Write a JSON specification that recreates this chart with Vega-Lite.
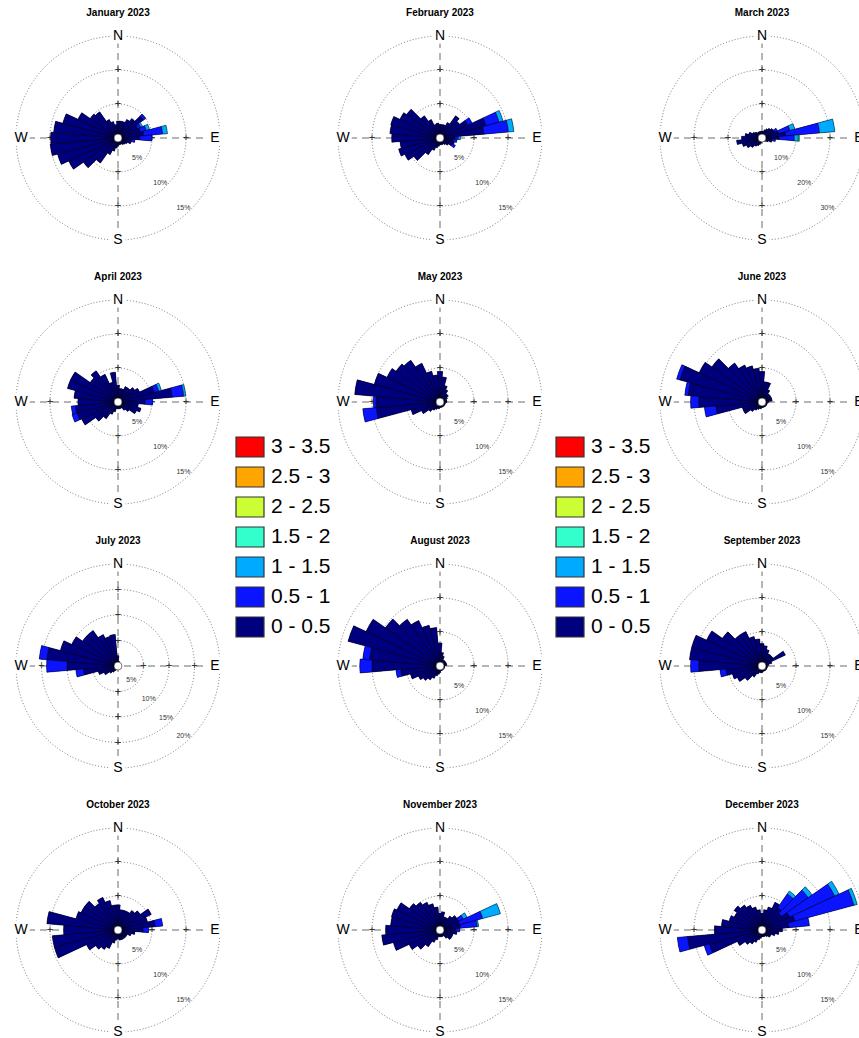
{
"$schema": "https://vega.github.io/schema/vega-lite/v6.json",
"padding": {"left": 14, "top": 8, "right": 0, "bottom": 0},
"bounds": "flush",
"config": {"font": "Liberation Sans", "view": {"stroke": null}},
"data": {"values": [
{"t":"w","m":1,"d":0,"b":0,"v":2.5},{"t":"w","m":1,"d":10,"b":0,"v":2.5},{"t":"w","m":1,"d":20,"b":0,"v":2.5},{"t":"w","m":1,"d":30,"b":0,"v":3},{"t":"w","m":1,"d":40,"b":0,"v":3.5},{"t":"w","m":1,"d":50,"b":0,"v":4.6},{"t":"w","m":1,"d":60,"b":0,"v":3.2},{"t":"w","m":1,"d":70,"b":0,"v":3.4},{"t":"w","m":1,"d":80,"b":0,"v":3.8},{"t":"w","m":1,"d":90,"b":0,"v":3.2},{"t":"w","m":1,"d":100,"b":0,"v":2},{"t":"w","m":1,"d":110,"b":0,"v":2},{"t":"w","m":1,"d":120,"b":0,"v":1.5},{"t":"w","m":1,"d":130,"b":0,"v":1.3},{"t":"w","m":1,"d":140,"b":0,"v":1.2},{"t":"w","m":1,"d":150,"b":0,"v":1},{"t":"w","m":1,"d":160,"b":0,"v":1},{"t":"w","m":1,"d":170,"b":0,"v":1},{"t":"w","m":1,"d":180,"b":0,"v":1.2},{"t":"w","m":1,"d":190,"b":0,"v":1.5},{"t":"w","m":1,"d":200,"b":0,"v":2},{"t":"w","m":1,"d":210,"b":0,"v":2.7},{"t":"w","m":1,"d":220,"b":0,"v":4.5},{"t":"w","m":1,"d":230,"b":0,"v":6.2},{"t":"w","m":1,"d":240,"b":0,"v":8},{"t":"w","m":1,"d":250,"b":0,"v":9.2},{"t":"w","m":1,"d":260,"b":0,"v":10},{"t":"w","m":1,"d":270,"b":0,"v":9.9},{"t":"w","m":1,"d":280,"b":0,"v":9.5},{"t":"w","m":1,"d":290,"b":0,"v":8.4},{"t":"w","m":1,"d":300,"b":0,"v":6.5},{"t":"w","m":1,"d":310,"b":0,"v":5},{"t":"w","m":1,"d":320,"b":0,"v":4.7},{"t":"w","m":1,"d":330,"b":0,"v":3},{"t":"w","m":1,"d":340,"b":0,"v":2.5},{"t":"w","m":1,"d":350,"b":0,"v":2},
{"t":"w","m":1,"d":50,"b":1,"v":0.4},{"t":"w","m":1,"d":60,"b":1,"v":0.5},{"t":"w","m":1,"d":60,"b":2,"v":0.3},{"t":"w","m":1,"d":70,"b":1,"v":0.9},{"t":"w","m":1,"d":70,"b":2,"v":0.5},{"t":"w","m":1,"d":80,"b":1,"v":2.8},{"t":"w","m":1,"d":80,"b":2,"v":0.7},{"t":"w","m":1,"d":90,"b":1,"v":1.8},{"t":"w","m":1,"d":100,"b":1,"v":0.5},
{"t":"w","m":2,"d":0,"b":0,"v":2},{"t":"w","m":2,"d":10,"b":0,"v":2},{"t":"w","m":2,"d":20,"b":0,"v":2},{"t":"w","m":2,"d":30,"b":0,"v":2.5},{"t":"w","m":2,"d":40,"b":0,"v":4},{"t":"w","m":2,"d":50,"b":0,"v":3.5},{"t":"w","m":2,"d":60,"b":0,"v":4.5},{"t":"w","m":2,"d":70,"b":0,"v":7},{"t":"w","m":2,"d":80,"b":0,"v":6.5},{"t":"w","m":2,"d":90,"b":0,"v":2.2},{"t":"w","m":2,"d":100,"b":0,"v":2},{"t":"w","m":2,"d":110,"b":0,"v":2.2},{"t":"w","m":2,"d":120,"b":0,"v":2},{"t":"w","m":2,"d":130,"b":0,"v":1.5},{"t":"w","m":2,"d":140,"b":0,"v":1.2},{"t":"w","m":2,"d":150,"b":0,"v":1},{"t":"w","m":2,"d":160,"b":0,"v":1},{"t":"w","m":2,"d":170,"b":0,"v":1},{"t":"w","m":2,"d":180,"b":0,"v":1},{"t":"w","m":2,"d":190,"b":0,"v":1.2},{"t":"w","m":2,"d":200,"b":0,"v":1.5},{"t":"w","m":2,"d":210,"b":0,"v":2},{"t":"w","m":2,"d":220,"b":0,"v":3},{"t":"w","m":2,"d":230,"b":0,"v":4.7},{"t":"w","m":2,"d":240,"b":0,"v":5.7},{"t":"w","m":2,"d":250,"b":0,"v":6.3},{"t":"w","m":2,"d":260,"b":0,"v":5.9},{"t":"w","m":2,"d":270,"b":0,"v":7.1},{"t":"w","m":2,"d":280,"b":0,"v":7.4},{"t":"w","m":2,"d":290,"b":0,"v":7.5},{"t":"w","m":2,"d":300,"b":0,"v":6.5},{"t":"w","m":2,"d":310,"b":0,"v":6},{"t":"w","m":2,"d":320,"b":0,"v":4},{"t":"w","m":2,"d":330,"b":0,"v":3},{"t":"w","m":2,"d":340,"b":0,"v":2.1},{"t":"w","m":2,"d":350,"b":0,"v":2.2},
{"t":"w","m":2,"d":60,"b":1,"v":0.7},{"t":"w","m":2,"d":70,"b":1,"v":2},{"t":"w","m":2,"d":70,"b":2,"v":0.6},{"t":"w","m":2,"d":80,"b":1,"v":3.6},{"t":"w","m":2,"d":80,"b":2,"v":0.8},{"t":"w","m":2,"d":90,"b":1,"v":0.5},{"t":"w","m":2,"d":90,"b":2,"v":0.3},{"t":"w","m":2,"d":100,"b":1,"v":0.5},{"t":"w","m":2,"d":120,"b":1,"v":0.5},
{"t":"w","m":3,"d":0,"b":0,"v":2},{"t":"w","m":3,"d":10,"b":0,"v":2},{"t":"w","m":3,"d":20,"b":0,"v":2.5},{"t":"w","m":3,"d":30,"b":0,"v":3},{"t":"w","m":3,"d":40,"b":0,"v":3.5},{"t":"w","m":3,"d":50,"b":0,"v":4},{"t":"w","m":3,"d":60,"b":0,"v":4},{"t":"w","m":3,"d":70,"b":0,"v":5},{"t":"w","m":3,"d":80,"b":0,"v":7},{"t":"w","m":3,"d":90,"b":0,"v":5},{"t":"w","m":3,"d":100,"b":0,"v":3},{"t":"w","m":3,"d":110,"b":0,"v":3},{"t":"w","m":3,"d":120,"b":0,"v":2},{"t":"w","m":3,"d":130,"b":0,"v":1.5},{"t":"w","m":3,"d":140,"b":0,"v":1.2},{"t":"w","m":3,"d":150,"b":0,"v":1},{"t":"w","m":3,"d":160,"b":0,"v":1},{"t":"w","m":3,"d":170,"b":0,"v":1},{"t":"w","m":3,"d":180,"b":0,"v":1},{"t":"w","m":3,"d":190,"b":0,"v":1.5},{"t":"w","m":3,"d":200,"b":0,"v":2},{"t":"w","m":3,"d":210,"b":0,"v":2.5},{"t":"w","m":3,"d":220,"b":0,"v":3},{"t":"w","m":3,"d":230,"b":0,"v":4},{"t":"w","m":3,"d":240,"b":0,"v":5},{"t":"w","m":3,"d":250,"b":0,"v":6},{"t":"w","m":3,"d":260,"b":0,"v":7.5},{"t":"w","m":3,"d":270,"b":0,"v":6},{"t":"w","m":3,"d":280,"b":0,"v":5},{"t":"w","m":3,"d":290,"b":0,"v":4},{"t":"w","m":3,"d":300,"b":0,"v":3},{"t":"w","m":3,"d":310,"b":0,"v":2.5},{"t":"w","m":3,"d":320,"b":0,"v":2},{"t":"w","m":3,"d":330,"b":0,"v":2},{"t":"w","m":3,"d":340,"b":0,"v":2},{"t":"w","m":3,"d":350,"b":0,"v":2},
{"t":"w","m":3,"d":60,"b":1,"v":1},{"t":"w","m":3,"d":70,"b":1,"v":3.5},{"t":"w","m":3,"d":70,"b":2,"v":1.5},{"t":"w","m":3,"d":80,"b":1,"v":10},{"t":"w","m":3,"d":80,"b":2,"v":4.5},{"t":"w","m":3,"d":90,"b":1,"v":4.5},{"t":"w","m":3,"d":90,"b":2,"v":1.2},{"t":"w","m":3,"d":90,"b":3,"v":0.3},{"t":"w","m":3,"d":100,"b":1,"v":1},
{"t":"w","m":4,"d":0,"b":0,"v":2.5},{"t":"w","m":4,"d":10,"b":0,"v":2},{"t":"w","m":4,"d":20,"b":0,"v":2},{"t":"w","m":4,"d":30,"b":0,"v":2.5},{"t":"w","m":4,"d":40,"b":0,"v":2.5},{"t":"w","m":4,"d":50,"b":0,"v":3},{"t":"w","m":4,"d":60,"b":0,"v":3.5},{"t":"w","m":4,"d":70,"b":0,"v":5.5},{"t":"w","m":4,"d":80,"b":0,"v":8},{"t":"w","m":4,"d":90,"b":0,"v":4},{"t":"w","m":4,"d":100,"b":0,"v":3},{"t":"w","m":4,"d":110,"b":0,"v":3.5},{"t":"w","m":4,"d":120,"b":0,"v":3},{"t":"w","m":4,"d":130,"b":0,"v":2},{"t":"w","m":4,"d":140,"b":0,"v":1.5},{"t":"w","m":4,"d":150,"b":0,"v":1},{"t":"w","m":4,"d":160,"b":0,"v":1},{"t":"w","m":4,"d":170,"b":0,"v":1},{"t":"w","m":4,"d":180,"b":0,"v":1},{"t":"w","m":4,"d":190,"b":0,"v":1},{"t":"w","m":4,"d":200,"b":0,"v":1.5},{"t":"w","m":4,"d":210,"b":0,"v":2},{"t":"w","m":4,"d":220,"b":0,"v":3},{"t":"w","m":4,"d":230,"b":0,"v":4},{"t":"w","m":4,"d":240,"b":0,"v":5.9},{"t":"w","m":4,"d":250,"b":0,"v":6.2},{"t":"w","m":4,"d":260,"b":0,"v":6.3},{"t":"w","m":4,"d":270,"b":0,"v":5.9},{"t":"w","m":4,"d":280,"b":0,"v":6.5},{"t":"w","m":4,"d":290,"b":0,"v":7.7},{"t":"w","m":4,"d":300,"b":0,"v":7.7},{"t":"w","m":4,"d":310,"b":0,"v":5},{"t":"w","m":4,"d":320,"b":0,"v":5.6},{"t":"w","m":4,"d":330,"b":0,"v":4.5},{"t":"w","m":4,"d":340,"b":0,"v":3},{"t":"w","m":4,"d":350,"b":0,"v":4.4},
{"t":"w","m":4,"d":70,"b":1,"v":0.7},{"t":"w","m":4,"d":70,"b":2,"v":0.4},{"t":"w","m":4,"d":80,"b":1,"v":1.7},{"t":"w","m":4,"d":80,"b":2,"v":0.3},{"t":"w","m":4,"d":90,"b":1,"v":1.1},{"t":"w","m":4,"d":250,"b":1,"v":0.8},{"t":"w","m":4,"d":260,"b":1,"v":0.6},
{"t":"w","m":5,"d":0,"b":0,"v":4.5},{"t":"w","m":5,"d":10,"b":0,"v":3.7},{"t":"w","m":5,"d":20,"b":0,"v":2.5},{"t":"w","m":5,"d":30,"b":0,"v":2},{"t":"w","m":5,"d":40,"b":0,"v":1.5},{"t":"w","m":5,"d":50,"b":0,"v":1.5},{"t":"w","m":5,"d":60,"b":0,"v":1.2},{"t":"w","m":5,"d":70,"b":0,"v":1},{"t":"w","m":5,"d":80,"b":0,"v":1},{"t":"w","m":5,"d":90,"b":0,"v":1},{"t":"w","m":5,"d":100,"b":0,"v":0.8},{"t":"w","m":5,"d":110,"b":0,"v":0.8},{"t":"w","m":5,"d":120,"b":0,"v":0.8},{"t":"w","m":5,"d":130,"b":0,"v":0.8},{"t":"w","m":5,"d":140,"b":0,"v":0.8},{"t":"w","m":5,"d":150,"b":0,"v":0.8},{"t":"w","m":5,"d":160,"b":0,"v":0.8},{"t":"w","m":5,"d":170,"b":0,"v":0.8},{"t":"w","m":5,"d":180,"b":0,"v":0.8},{"t":"w","m":5,"d":190,"b":0,"v":1},{"t":"w","m":5,"d":200,"b":0,"v":1},{"t":"w","m":5,"d":210,"b":0,"v":1.2},{"t":"w","m":5,"d":220,"b":0,"v":1.5},{"t":"w","m":5,"d":230,"b":0,"v":2},{"t":"w","m":5,"d":240,"b":0,"v":3},{"t":"w","m":5,"d":250,"b":0,"v":4.4},{"t":"w","m":5,"d":260,"b":0,"v":9.4},{"t":"w","m":5,"d":270,"b":0,"v":9.4},{"t":"w","m":5,"d":280,"b":0,"v":12.6},{"t":"w","m":5,"d":290,"b":0,"v":10},{"t":"w","m":5,"d":300,"b":0,"v":8.6},{"t":"w","m":5,"d":310,"b":0,"v":7.9},{"t":"w","m":5,"d":320,"b":0,"v":7.5},{"t":"w","m":5,"d":330,"b":0,"v":6.3},{"t":"w","m":5,"d":340,"b":0,"v":4.7},{"t":"w","m":5,"d":350,"b":0,"v":4},
{"t":"w","m":5,"d":260,"b":1,"v":2},{"t":"w","m":5,"d":270,"b":1,"v":0.4},
{"t":"w","m":6,"d":0,"b":0,"v":4.5},{"t":"w","m":6,"d":10,"b":0,"v":3},{"t":"w","m":6,"d":20,"b":0,"v":3},{"t":"w","m":6,"d":30,"b":0,"v":2},{"t":"w","m":6,"d":40,"b":0,"v":1.5},{"t":"w","m":6,"d":50,"b":0,"v":1.5},{"t":"w","m":6,"d":60,"b":0,"v":1.5},{"t":"w","m":6,"d":70,"b":0,"v":1.5},{"t":"w","m":6,"d":80,"b":0,"v":1.5},{"t":"w","m":6,"d":90,"b":0,"v":1},{"t":"w","m":6,"d":100,"b":0,"v":0.8},{"t":"w","m":6,"d":110,"b":0,"v":0.8},{"t":"w","m":6,"d":120,"b":0,"v":0.8},{"t":"w","m":6,"d":130,"b":0,"v":0.8},{"t":"w","m":6,"d":140,"b":0,"v":0.8},{"t":"w","m":6,"d":150,"b":0,"v":0.8},{"t":"w","m":6,"d":160,"b":0,"v":0.8},{"t":"w","m":6,"d":170,"b":0,"v":0.8},{"t":"w","m":6,"d":180,"b":0,"v":0.8},{"t":"w","m":6,"d":190,"b":0,"v":1},{"t":"w","m":6,"d":200,"b":0,"v":1},{"t":"w","m":6,"d":210,"b":0,"v":1.2},{"t":"w","m":6,"d":220,"b":0,"v":1.5},{"t":"w","m":6,"d":230,"b":0,"v":2},{"t":"w","m":6,"d":240,"b":0,"v":3},{"t":"w","m":6,"d":250,"b":0,"v":3},{"t":"w","m":6,"d":260,"b":0,"v":6.8},{"t":"w","m":6,"d":270,"b":0,"v":9.3},{"t":"w","m":6,"d":280,"b":0,"v":10.9},{"t":"w","m":6,"d":290,"b":0,"v":12.5},{"t":"w","m":6,"d":300,"b":0,"v":10.2},{"t":"w","m":6,"d":310,"b":0,"v":9},{"t":"w","m":6,"d":320,"b":0,"v":7},{"t":"w","m":6,"d":330,"b":0,"v":6},{"t":"w","m":6,"d":340,"b":0,"v":5.5},{"t":"w","m":6,"d":350,"b":0,"v":5},
{"t":"w","m":6,"d":260,"b":1,"v":1.7},{"t":"w","m":6,"d":270,"b":1,"v":1.2},{"t":"w","m":6,"d":280,"b":1,"v":0.5},{"t":"w","m":6,"d":290,"b":1,"v":0.5},
{"t":"w","m":7,"d":0,"b":0,"v":2},{"t":"w","m":7,"d":10,"b":0,"v":1},{"t":"w","m":7,"d":20,"b":0,"v":0.8},{"t":"w","m":7,"d":30,"b":0,"v":0.6},{"t":"w","m":7,"d":40,"b":0,"v":0.5},{"t":"w","m":7,"d":50,"b":0,"v":0.5},{"t":"w","m":7,"d":60,"b":0,"v":0.5},{"t":"w","m":7,"d":70,"b":0,"v":0.5},{"t":"w","m":7,"d":80,"b":0,"v":0.5},{"t":"w","m":7,"d":90,"b":0,"v":0.5},{"t":"w","m":7,"d":100,"b":0,"v":0.5},{"t":"w","m":7,"d":110,"b":0,"v":0.5},{"t":"w","m":7,"d":120,"b":0,"v":0.5},{"t":"w","m":7,"d":130,"b":0,"v":0.5},{"t":"w","m":7,"d":140,"b":0,"v":0.5},{"t":"w","m":7,"d":150,"b":0,"v":0.5},{"t":"w","m":7,"d":160,"b":0,"v":0.5},{"t":"w","m":7,"d":170,"b":0,"v":0.5},{"t":"w","m":7,"d":180,"b":0,"v":0.5},{"t":"w","m":7,"d":190,"b":0,"v":0.6},{"t":"w","m":7,"d":200,"b":0,"v":0.8},{"t":"w","m":7,"d":210,"b":0,"v":1},{"t":"w","m":7,"d":220,"b":0,"v":1.5},{"t":"w","m":7,"d":230,"b":0,"v":2},{"t":"w","m":7,"d":240,"b":0,"v":3},{"t":"w","m":7,"d":250,"b":0,"v":4},{"t":"w","m":7,"d":260,"b":0,"v":6.8},{"t":"w","m":7,"d":270,"b":0,"v":10},{"t":"w","m":7,"d":280,"b":0,"v":14},{"t":"w","m":7,"d":290,"b":0,"v":11.7},{"t":"w","m":7,"d":300,"b":0,"v":10},{"t":"w","m":7,"d":310,"b":0,"v":8.5},{"t":"w","m":7,"d":320,"b":0,"v":8.5},{"t":"w","m":7,"d":330,"b":0,"v":6.8},{"t":"w","m":7,"d":340,"b":0,"v":6},{"t":"w","m":7,"d":350,"b":0,"v":6.2},
{"t":"w","m":7,"d":260,"b":1,"v":1.5},{"t":"w","m":7,"d":270,"b":1,"v":4},{"t":"w","m":7,"d":280,"b":1,"v":1.5},
{"t":"w","m":8,"d":0,"b":0,"v":3.4},{"t":"w","m":8,"d":10,"b":0,"v":2},{"t":"w","m":8,"d":20,"b":0,"v":1.5},{"t":"w","m":8,"d":30,"b":0,"v":1},{"t":"w","m":8,"d":40,"b":0,"v":1},{"t":"w","m":8,"d":50,"b":0,"v":1},{"t":"w","m":8,"d":60,"b":0,"v":1},{"t":"w","m":8,"d":70,"b":0,"v":1},{"t":"w","m":8,"d":80,"b":0,"v":1},{"t":"w","m":8,"d":90,"b":0,"v":0.7},{"t":"w","m":8,"d":100,"b":0,"v":0.7},{"t":"w","m":8,"d":110,"b":0,"v":0.7},{"t":"w","m":8,"d":120,"b":0,"v":0.7},{"t":"w","m":8,"d":130,"b":0,"v":0.7},{"t":"w","m":8,"d":140,"b":0,"v":0.7},{"t":"w","m":8,"d":150,"b":0,"v":0.7},{"t":"w","m":8,"d":160,"b":0,"v":0.7},{"t":"w","m":8,"d":170,"b":0,"v":0.7},{"t":"w","m":8,"d":180,"b":0,"v":1},{"t":"w","m":8,"d":190,"b":0,"v":1.2},{"t":"w","m":8,"d":200,"b":0,"v":1.5},{"t":"w","m":8,"d":210,"b":0,"v":2},{"t":"w","m":8,"d":220,"b":0,"v":2.5},{"t":"w","m":8,"d":230,"b":0,"v":3},{"t":"w","m":8,"d":240,"b":0,"v":3.5},{"t":"w","m":8,"d":250,"b":0,"v":4.5},{"t":"w","m":8,"d":260,"b":0,"v":5.8},{"t":"w","m":8,"d":270,"b":0,"v":10},{"t":"w","m":8,"d":280,"b":0,"v":10.4},{"t":"w","m":8,"d":290,"b":0,"v":14},{"t":"w","m":8,"d":300,"b":0,"v":12},{"t":"w","m":8,"d":310,"b":0,"v":9.8},{"t":"w","m":8,"d":320,"b":0,"v":8.4},{"t":"w","m":8,"d":330,"b":0,"v":7.4},{"t":"w","m":8,"d":340,"b":0,"v":6.2},{"t":"w","m":8,"d":350,"b":0,"v":5.7},
{"t":"w","m":8,"d":260,"b":1,"v":0.7},{"t":"w","m":8,"d":270,"b":1,"v":1.8},{"t":"w","m":8,"d":280,"b":1,"v":1},
{"t":"w","m":9,"d":0,"b":0,"v":3.3},{"t":"w","m":9,"d":10,"b":0,"v":3},{"t":"w","m":9,"d":20,"b":0,"v":2.5},{"t":"w","m":9,"d":30,"b":0,"v":2},{"t":"w","m":9,"d":40,"b":0,"v":2},{"t":"w","m":9,"d":50,"b":0,"v":2},{"t":"w","m":9,"d":60,"b":0,"v":3.8},{"t":"w","m":9,"d":70,"b":0,"v":1.5},{"t":"w","m":9,"d":80,"b":0,"v":1},{"t":"w","m":9,"d":90,"b":0,"v":0.8},{"t":"w","m":9,"d":100,"b":0,"v":0.8},{"t":"w","m":9,"d":110,"b":0,"v":0.8},{"t":"w","m":9,"d":120,"b":0,"v":0.8},{"t":"w","m":9,"d":130,"b":0,"v":0.8},{"t":"w","m":9,"d":140,"b":0,"v":0.8},{"t":"w","m":9,"d":150,"b":0,"v":0.8},{"t":"w","m":9,"d":160,"b":0,"v":0.8},{"t":"w","m":9,"d":170,"b":0,"v":0.8},{"t":"w","m":9,"d":180,"b":0,"v":1},{"t":"w","m":9,"d":190,"b":0,"v":1},{"t":"w","m":9,"d":200,"b":0,"v":1},{"t":"w","m":9,"d":210,"b":0,"v":1.3},{"t":"w","m":9,"d":220,"b":0,"v":2},{"t":"w","m":9,"d":230,"b":0,"v":3},{"t":"w","m":9,"d":240,"b":0,"v":4},{"t":"w","m":9,"d":250,"b":0,"v":4.5},{"t":"w","m":9,"d":260,"b":0,"v":5.3},{"t":"w","m":9,"d":270,"b":0,"v":9.3},{"t":"w","m":9,"d":280,"b":0,"v":10.7},{"t":"w","m":9,"d":290,"b":0,"v":10.7},{"t":"w","m":9,"d":300,"b":0,"v":9},{"t":"w","m":9,"d":310,"b":0,"v":7.1},{"t":"w","m":9,"d":320,"b":0,"v":5.6},{"t":"w","m":9,"d":330,"b":0,"v":5.6},{"t":"w","m":9,"d":340,"b":0,"v":4.5},{"t":"w","m":9,"d":350,"b":0,"v":4},
{"t":"w","m":9,"d":260,"b":1,"v":0.9},{"t":"w","m":9,"d":270,"b":1,"v":1.2},
{"t":"w","m":10,"d":0,"b":0,"v":3.7},{"t":"w","m":10,"d":10,"b":0,"v":3},{"t":"w","m":10,"d":20,"b":0,"v":3},{"t":"w","m":10,"d":30,"b":0,"v":3},{"t":"w","m":10,"d":40,"b":0,"v":3.5},{"t":"w","m":10,"d":50,"b":0,"v":4},{"t":"w","m":10,"d":60,"b":0,"v":5.4},{"t":"w","m":10,"d":70,"b":0,"v":4.5},{"t":"w","m":10,"d":80,"b":0,"v":5.5},{"t":"w","m":10,"d":90,"b":0,"v":3.7},{"t":"w","m":10,"d":100,"b":0,"v":2.5},{"t":"w","m":10,"d":110,"b":0,"v":2},{"t":"w","m":10,"d":120,"b":0,"v":1.5},{"t":"w","m":10,"d":130,"b":0,"v":1.5},{"t":"w","m":10,"d":140,"b":0,"v":1.5},{"t":"w","m":10,"d":150,"b":0,"v":1.5},{"t":"w","m":10,"d":160,"b":0,"v":1.5},{"t":"w","m":10,"d":170,"b":0,"v":1.5},{"t":"w","m":10,"d":180,"b":0,"v":1.3},{"t":"w","m":10,"d":190,"b":0,"v":1.5},{"t":"w","m":10,"d":200,"b":0,"v":2},{"t":"w","m":10,"d":210,"b":0,"v":3},{"t":"w","m":10,"d":220,"b":0,"v":3.5},{"t":"w","m":10,"d":230,"b":0,"v":4},{"t":"w","m":10,"d":240,"b":0,"v":5.1},{"t":"w","m":10,"d":250,"b":0,"v":9.7},{"t":"w","m":10,"d":260,"b":0,"v":9.7},{"t":"w","m":10,"d":270,"b":0,"v":8},{"t":"w","m":10,"d":280,"b":0,"v":10.5},{"t":"w","m":10,"d":290,"b":0,"v":6.4},{"t":"w","m":10,"d":300,"b":0,"v":6},{"t":"w","m":10,"d":310,"b":0,"v":6},{"t":"w","m":10,"d":320,"b":0,"v":4.8},{"t":"w","m":10,"d":330,"b":0,"v":5.3},{"t":"w","m":10,"d":340,"b":0,"v":4.5},{"t":"w","m":10,"d":350,"b":0,"v":3.7},
{"t":"w","m":10,"d":80,"b":1,"v":1.1},{"t":"w","m":10,"d":90,"b":1,"v":0.8},
{"t":"w","m":11,"d":0,"b":0,"v":2.5},{"t":"w","m":11,"d":10,"b":0,"v":2.7},{"t":"w","m":11,"d":20,"b":0,"v":2},{"t":"w","m":11,"d":30,"b":0,"v":2},{"t":"w","m":11,"d":40,"b":0,"v":2.5},{"t":"w","m":11,"d":50,"b":0,"v":3},{"t":"w","m":11,"d":60,"b":0,"v":3},{"t":"w","m":11,"d":70,"b":0,"v":3},{"t":"w","m":11,"d":80,"b":0,"v":3},{"t":"w","m":11,"d":90,"b":0,"v":2.3},{"t":"w","m":11,"d":100,"b":0,"v":2.5},{"t":"w","m":11,"d":110,"b":0,"v":2},{"t":"w","m":11,"d":120,"b":0,"v":2},{"t":"w","m":11,"d":130,"b":0,"v":2},{"t":"w","m":11,"d":140,"b":0,"v":1.5},{"t":"w","m":11,"d":150,"b":0,"v":1},{"t":"w","m":11,"d":160,"b":0,"v":1},{"t":"w","m":11,"d":170,"b":0,"v":1},{"t":"w","m":11,"d":180,"b":0,"v":1},{"t":"w","m":11,"d":190,"b":0,"v":1},{"t":"w","m":11,"d":200,"b":0,"v":1.5},{"t":"w","m":11,"d":210,"b":0,"v":2},{"t":"w","m":11,"d":220,"b":0,"v":3},{"t":"w","m":11,"d":230,"b":0,"v":4},{"t":"w","m":11,"d":240,"b":0,"v":5},{"t":"w","m":11,"d":250,"b":0,"v":7.1},{"t":"w","m":11,"d":260,"b":0,"v":8.6},{"t":"w","m":11,"d":270,"b":0,"v":8},{"t":"w","m":11,"d":280,"b":0,"v":7.3},{"t":"w","m":11,"d":290,"b":0,"v":7.4},{"t":"w","m":11,"d":300,"b":0,"v":7},{"t":"w","m":11,"d":310,"b":0,"v":5.5},{"t":"w","m":11,"d":320,"b":0,"v":5},{"t":"w","m":11,"d":330,"b":0,"v":4.5},{"t":"w","m":11,"d":340,"b":0,"v":4},{"t":"w","m":11,"d":350,"b":0,"v":3.4},
{"t":"w","m":11,"d":60,"b":1,"v":0.8},{"t":"w","m":11,"d":60,"b":2,"v":0.6},{"t":"w","m":11,"d":70,"b":1,"v":3.5},{"t":"w","m":11,"d":70,"b":2,"v":2.7},{"t":"w","m":11,"d":80,"b":1,"v":2.5},{"t":"w","m":11,"d":80,"b":2,"v":0.2},{"t":"w","m":11,"d":90,"b":1,"v":0.6},
{"t":"w","m":12,"d":0,"b":0,"v":2.5},{"t":"w","m":12,"d":10,"b":0,"v":3},{"t":"w","m":12,"d":20,"b":0,"v":3.5},{"t":"w","m":12,"d":30,"b":0,"v":4.5},{"t":"w","m":12,"d":40,"b":0,"v":4},{"t":"w","m":12,"d":50,"b":0,"v":3.5},{"t":"w","m":12,"d":60,"b":0,"v":4.5},{"t":"w","m":12,"d":70,"b":0,"v":5},{"t":"w","m":12,"d":80,"b":0,"v":4},{"t":"w","m":12,"d":90,"b":0,"v":3},{"t":"w","m":12,"d":100,"b":0,"v":2.5},{"t":"w","m":12,"d":110,"b":0,"v":2},{"t":"w","m":12,"d":120,"b":0,"v":1.5},{"t":"w","m":12,"d":130,"b":0,"v":1.5},{"t":"w","m":12,"d":140,"b":0,"v":1.2},{"t":"w","m":12,"d":150,"b":0,"v":1},{"t":"w","m":12,"d":160,"b":0,"v":1},{"t":"w","m":12,"d":170,"b":0,"v":1},{"t":"w","m":12,"d":180,"b":0,"v":1},{"t":"w","m":12,"d":190,"b":0,"v":1.2},{"t":"w","m":12,"d":200,"b":0,"v":1.5},{"t":"w","m":12,"d":210,"b":0,"v":2},{"t":"w","m":12,"d":220,"b":0,"v":2.5},{"t":"w","m":12,"d":230,"b":0,"v":3},{"t":"w","m":12,"d":240,"b":0,"v":4},{"t":"w","m":12,"d":250,"b":0,"v":8},{"t":"w","m":12,"d":260,"b":0,"v":11},{"t":"w","m":12,"d":270,"b":0,"v":7},{"t":"w","m":12,"d":280,"b":0,"v":6},{"t":"w","m":12,"d":290,"b":0,"v":5},{"t":"w","m":12,"d":300,"b":0,"v":4.5},{"t":"w","m":12,"d":310,"b":0,"v":5},{"t":"w","m":12,"d":320,"b":0,"v":4.5},{"t":"w","m":12,"d":330,"b":0,"v":4},{"t":"w","m":12,"d":340,"b":0,"v":3.5},{"t":"w","m":12,"d":350,"b":0,"v":3},
{"t":"w","m":12,"d":40,"b":1,"v":2.5},{"t":"w","m":12,"d":40,"b":2,"v":0.5},{"t":"w","m":12,"d":50,"b":1,"v":4.8},{"t":"w","m":12,"d":50,"b":2,"v":0.7},{"t":"w","m":12,"d":60,"b":1,"v":7.3},{"t":"w","m":12,"d":60,"b":2,"v":0.7},{"t":"w","m":12,"d":70,"b":1,"v":9},{"t":"w","m":12,"d":70,"b":2,"v":0.5},{"t":"w","m":12,"d":80,"b":1,"v":3},{"t":"w","m":12,"d":250,"b":1,"v":0.8},{"t":"w","m":12,"d":260,"b":1,"v":1.5},

{"t":"g","m":1,"r":5,"lab":"5%","o":0},{"t":"g","m":1,"r":10,"lab":"10%","o":0},{"t":"g","m":1,"r":15,"lab":"15%","o":1},
{"t":"g","m":2,"r":5,"lab":"5%","o":0},{"t":"g","m":2,"r":10,"lab":"10%","o":0},{"t":"g","m":2,"r":15,"lab":"15%","o":1},
{"t":"g","m":3,"r":10,"lab":"10%","o":0},{"t":"g","m":3,"r":20,"lab":"20%","o":0},{"t":"g","m":3,"r":30,"lab":"30%","o":1},
{"t":"g","m":4,"r":5,"lab":"5%","o":0},{"t":"g","m":4,"r":10,"lab":"10%","o":0},{"t":"g","m":4,"r":15,"lab":"15%","o":1},
{"t":"g","m":5,"r":5,"lab":"5%","o":0},{"t":"g","m":5,"r":10,"lab":"10%","o":0},{"t":"g","m":5,"r":15,"lab":"15%","o":1},
{"t":"g","m":6,"r":5,"lab":"5%","o":0},{"t":"g","m":6,"r":10,"lab":"10%","o":0},{"t":"g","m":6,"r":15,"lab":"15%","o":1},
{"t":"g","m":7,"r":5,"lab":"5%","o":0},{"t":"g","m":7,"r":10,"lab":"10%","o":0},{"t":"g","m":7,"r":15,"lab":"15%","o":0},{"t":"g","m":7,"r":20,"lab":"20%","o":1},
{"t":"g","m":8,"r":5,"lab":"5%","o":0},{"t":"g","m":8,"r":10,"lab":"10%","o":0},{"t":"g","m":8,"r":15,"lab":"15%","o":1},
{"t":"g","m":9,"r":5,"lab":"5%","o":0},{"t":"g","m":9,"r":10,"lab":"10%","o":0},{"t":"g","m":9,"r":15,"lab":"15%","o":1},
{"t":"g","m":10,"r":5,"lab":"5%","o":0},{"t":"g","m":10,"r":10,"lab":"10%","o":0},{"t":"g","m":10,"r":15,"lab":"15%","o":1},
{"t":"g","m":11,"r":5,"lab":"5%","o":0},{"t":"g","m":11,"r":10,"lab":"10%","o":0},{"t":"g","m":11,"r":15,"lab":"15%","o":1},
{"t":"g","m":12,"r":5,"lab":"5%","o":0},{"t":"g","m":12,"r":10,"lab":"10%","o":0},{"t":"g","m":12,"r":15,"lab":"15%","o":1},

{"t":"c","m":1,"d":0,"lab":"N","r":15},{"t":"c","m":1,"d":90,"lab":"E","r":15},{"t":"c","m":1,"d":180,"lab":"S","r":15},{"t":"c","m":1,"d":270,"lab":"W","r":15},
{"t":"c","m":2,"d":0,"lab":"N","r":15},{"t":"c","m":2,"d":90,"lab":"E","r":15},{"t":"c","m":2,"d":180,"lab":"S","r":15},{"t":"c","m":2,"d":270,"lab":"W","r":15},
{"t":"c","m":3,"d":0,"lab":"N","r":30},{"t":"c","m":3,"d":90,"lab":"E","r":30},{"t":"c","m":3,"d":180,"lab":"S","r":30},{"t":"c","m":3,"d":270,"lab":"W","r":30},
{"t":"c","m":4,"d":0,"lab":"N","r":15},{"t":"c","m":4,"d":90,"lab":"E","r":15},{"t":"c","m":4,"d":180,"lab":"S","r":15},{"t":"c","m":4,"d":270,"lab":"W","r":15},
{"t":"c","m":5,"d":0,"lab":"N","r":15},{"t":"c","m":5,"d":90,"lab":"E","r":15},{"t":"c","m":5,"d":180,"lab":"S","r":15},{"t":"c","m":5,"d":270,"lab":"W","r":15},
{"t":"c","m":6,"d":0,"lab":"N","r":15},{"t":"c","m":6,"d":90,"lab":"E","r":15},{"t":"c","m":6,"d":180,"lab":"S","r":15},{"t":"c","m":6,"d":270,"lab":"W","r":15},
{"t":"c","m":7,"d":0,"lab":"N","r":20},{"t":"c","m":7,"d":90,"lab":"E","r":20},{"t":"c","m":7,"d":180,"lab":"S","r":20},{"t":"c","m":7,"d":270,"lab":"W","r":20},
{"t":"c","m":8,"d":0,"lab":"N","r":15},{"t":"c","m":8,"d":90,"lab":"E","r":15},{"t":"c","m":8,"d":180,"lab":"S","r":15},{"t":"c","m":8,"d":270,"lab":"W","r":15},
{"t":"c","m":9,"d":0,"lab":"N","r":15},{"t":"c","m":9,"d":90,"lab":"E","r":15},{"t":"c","m":9,"d":180,"lab":"S","r":15},{"t":"c","m":9,"d":270,"lab":"W","r":15},
{"t":"c","m":10,"d":0,"lab":"N","r":15},{"t":"c","m":10,"d":90,"lab":"E","r":15},{"t":"c","m":10,"d":180,"lab":"S","r":15},{"t":"c","m":10,"d":270,"lab":"W","r":15},
{"t":"c","m":11,"d":0,"lab":"N","r":15},{"t":"c","m":11,"d":90,"lab":"E","r":15},{"t":"c","m":11,"d":180,"lab":"S","r":15},{"t":"c","m":11,"d":270,"lab":"W","r":15},
{"t":"c","m":12,"d":0,"lab":"N","r":15},{"t":"c","m":12,"d":90,"lab":"E","r":15},{"t":"c","m":12,"d":180,"lab":"S","r":15},{"t":"c","m":12,"d":270,"lab":"W","r":15},

{"t":"x","m":1,"x1":-15,"x2":15,"y1":0,"y2":0},{"t":"x","m":1,"x1":0,"x2":0,"y1":-15,"y2":15},
{"t":"x","m":2,"x1":-15,"x2":15,"y1":0,"y2":0},{"t":"x","m":2,"x1":0,"x2":0,"y1":-15,"y2":15},
{"t":"x","m":3,"x1":-30,"x2":30,"y1":0,"y2":0},{"t":"x","m":3,"x1":0,"x2":0,"y1":-30,"y2":30},
{"t":"x","m":4,"x1":-15,"x2":15,"y1":0,"y2":0},{"t":"x","m":4,"x1":0,"x2":0,"y1":-15,"y2":15},
{"t":"x","m":5,"x1":-15,"x2":15,"y1":0,"y2":0},{"t":"x","m":5,"x1":0,"x2":0,"y1":-15,"y2":15},
{"t":"x","m":6,"x1":-15,"x2":15,"y1":0,"y2":0},{"t":"x","m":6,"x1":0,"x2":0,"y1":-15,"y2":15},
{"t":"x","m":7,"x1":-20,"x2":20,"y1":0,"y2":0},{"t":"x","m":7,"x1":0,"x2":0,"y1":-20,"y2":20},
{"t":"x","m":8,"x1":-15,"x2":15,"y1":0,"y2":0},{"t":"x","m":8,"x1":0,"x2":0,"y1":-15,"y2":15},
{"t":"x","m":9,"x1":-15,"x2":15,"y1":0,"y2":0},{"t":"x","m":9,"x1":0,"x2":0,"y1":-15,"y2":15},
{"t":"x","m":10,"x1":-15,"x2":15,"y1":0,"y2":0},{"t":"x","m":10,"x1":0,"x2":0,"y1":-15,"y2":15},
{"t":"x","m":11,"x1":-15,"x2":15,"y1":0,"y2":0},{"t":"x","m":11,"x1":0,"x2":0,"y1":-15,"y2":15},
{"t":"x","m":12,"x1":-15,"x2":15,"y1":0,"y2":0},{"t":"x","m":12,"x1":0,"x2":0,"y1":-15,"y2":15}
]},
"facet": {"field": "m", "type": "ordinal", "sort": [1,2,3,4,5,6,7,8,9,10,11,12],
  "header": {"title": null, "labelExpr": "['January 2023','February 2023','March 2023','April 2023','May 2023','June 2023','July 2023','August 2023','September 2023','October 2023','November 2023','December 2023'][datum.value-1]", "labelFontWeight": "bold", "labelFontSize": 10, "labelColor": "black", "labelPadding": 11, "labelFont": "Liberation Sans"}},
"columns": 3,
"spacing": {"row": 60, "column": 118},
"resolve": {"scale": {"radius": "independent", "x": "independent", "y": "independent"}},
"spec": {
  "width": 204, "height": 204,
  "layer": [
    {"transform": [{"filter": "datum.t == 'x'"}],
     "mark": {"type": "rule", "color": "#444", "strokeDash": [7, 5], "strokeWidth": 0.8},
     "encoding": {
       "x": {"field": "x1", "type": "quantitative", "axis": null, "scale": {"nice": false, "zero": false}},
       "x2": {"field": "x2"},
       "y": {"field": "y1", "type": "quantitative", "axis": null, "scale": {"nice": false, "zero": false}},
       "y2": {"field": "y2"}}},
    {"transform": [{"filter": "datum.t == 'g'"}],
     "mark": {"type": "arc", "theta": 0, "theta2": 6.2832, "filled": false, "stroke": "#555", "strokeDash": [1, 2], "strokeWidth": 0.8},
     "encoding": {"radius": {"field": "r", "type": "quantitative", "stack": null, "scale": {"type": "linear", "zero": true, "nice": false, "range": [0, 102]}}}},
    {"transform": [{"filter": "datum.t == 'g'"}],
     "mark": {"type": "text", "fontSize": 7, "color": "#333", "radiusOffset": -6},
     "encoding": {
       "theta": {"datum": 137, "type": "quantitative", "scale": {"domain": [0, 360]}},
       "radius": {"field": "r", "type": "quantitative", "stack": null, "scale": {"type": "linear", "zero": true, "nice": false, "range": [0, 102]}},
       "text": {"field": "lab"}}},
    {"transform": [{"filter": "datum.t == 'g' && datum.o == 0"}],
     "mark": {"type": "text", "fontSize": 11, "color": "#333", "text": "+"},
     "encoding": {
       "theta": {"datum": 0, "type": "quantitative", "scale": {"domain": [0, 360]}},
       "radius": {"field": "r", "type": "quantitative", "stack": null, "scale": {"type": "linear", "zero": true, "nice": false, "range": [0, 102]}}}},
    {"transform": [{"filter": "datum.t == 'g' && datum.o == 0"}],
     "mark": {"type": "text", "fontSize": 11, "color": "#333", "text": "+"},
     "encoding": {
       "theta": {"datum": 90, "type": "quantitative", "scale": {"domain": [0, 360]}},
       "radius": {"field": "r", "type": "quantitative", "stack": null, "scale": {"type": "linear", "zero": true, "nice": false, "range": [0, 102]}}}},
    {"transform": [{"filter": "datum.t == 'g' && datum.o == 0"}],
     "mark": {"type": "text", "fontSize": 11, "color": "#333", "text": "+"},
     "encoding": {
       "theta": {"datum": 180, "type": "quantitative", "scale": {"domain": [0, 360]}},
       "radius": {"field": "r", "type": "quantitative", "stack": null, "scale": {"type": "linear", "zero": true, "nice": false, "range": [0, 102]}}}},
    {"transform": [{"filter": "datum.t == 'g' && datum.o == 0"}],
     "mark": {"type": "text", "fontSize": 11, "color": "#333", "text": "+"},
     "encoding": {
       "theta": {"datum": 270, "type": "quantitative", "scale": {"domain": [0, 360]}},
       "radius": {"field": "r", "type": "quantitative", "stack": null, "scale": {"type": "linear", "zero": true, "nice": false, "range": [0, 102]}}}},
    {"transform": [{"filter": "datum.t == 'w'"}],
     "mark": {"type": "arc", "thetaOffset": -0.0873, "theta2Offset": 0.0873},
     "encoding": {
       "theta": {"field": "d", "type": "quantitative", "scale": {"domain": [0, 360]}},
       "theta2": {"field": "d"},
       "radius": {"field": "v", "type": "quantitative", "stack": "zero", "scale": {"type": "linear", "zero": true, "nice": false, "range": [0, 102]}},
       "color": {"field": "b", "type": "nominal",
         "scale": {"domain": [6,5,4,3,2,1,0,7], "range": ["#FF0000","#FFA500","#CCFF33","#33FFCC","#00AAFF","#0A14FF","#00007F","#000000"]},
         "legend": {"orient": "none", "legendX": 539, "legendY": 396, "values": [6,5,4,3,2,1,0], "title": null, "symbolType": "M-1,-0.714H1V0.714H-1Z", "symbolSize": 784, "symbolStrokeColor": "#333", "symbolStrokeWidth": 1.2, "symbolOpacity": 1, "labelFontSize": 21, "labelFont": "Liberation Sans", "labelColor": "black", "labelOffset": 6, "rowPadding": 2, "labelExpr": "['0 - 0.5','0.5 - 1','1 - 1.5','1.5 - 2','2 - 2.5','2.5 - 3','3 - 3.5'][datum.value]"}},
       "order": {"field": "b", "type": "quantitative", "sort": "ascending"}}},
    {"transform": [{"filter": "datum.t == 'w'"}],
     "mark": {"type": "arc", "thetaOffset": -0.0873, "theta2Offset": 0.0873, "stroke": "black", "strokeWidth": 0.5},
     "encoding": {
       "theta": {"field": "d", "type": "quantitative", "scale": {"domain": [0, 360]}},
       "theta2": {"field": "d"},
       "radius": {"field": "v", "type": "quantitative", "stack": "zero", "scale": {"type": "linear", "zero": true, "nice": false, "range": [0, 102]}},
       "fill": {"field": "b", "type": "nominal",
         "scale": {"domain": [6,5,4,3,2,1,0], "range": ["#FF0000","#FFA500","#CCFF33","#33FFCC","#00AAFF","#0A14FF","#00007F"]},
         "legend": {"orient": "none", "legendX": 219, "legendY": 396, "title": null, "symbolType": "M-1,-0.714H1V0.714H-1Z", "symbolSize": 784, "symbolStrokeColor": "#333", "symbolStrokeWidth": 1.2, "symbolOpacity": 1, "labelFontSize": 21, "labelFont": "Liberation Sans", "labelColor": "black", "labelOffset": 6, "rowPadding": 2, "labelExpr": "['0 - 0.5','0.5 - 1','1 - 1.5','1.5 - 2','2 - 2.5','2.5 - 3','3 - 3.5'][datum.value]"}},
       "order": {"field": "b", "type": "quantitative", "sort": "ascending"}}},
    {"transform": [{"filter": "datum.t == 'c' && datum.d == 0"}],
     "mark": {"type": "arc", "radius": 4, "theta": 0, "theta2": 6.2832, "fill": "white", "stroke": "#222", "strokeWidth": 0.6},
     "encoding": {}},
    {"transform": [{"filter": "datum.t == 'c'"}],
     "mark": {"type": "text", "fontSize": 14, "fill": "white", "stroke": "white", "strokeWidth": 7, "radiusOffset": {"expr": "datum.d == 90 || datum.d == 270 ? -5 : 0"}},
     "encoding": {
       "theta": {"field": "d", "type": "quantitative", "scale": {"domain": [0, 360]}},
       "radius": {"field": "r", "type": "quantitative", "stack": null, "scale": {"type": "linear", "zero": true, "nice": false, "range": [0, 102]}},
       "text": {"field": "lab"}}},
    {"transform": [{"filter": "datum.t == 'c'"}],
     "mark": {"type": "text", "fontSize": 14, "color": "black", "radiusOffset": {"expr": "datum.d == 90 || datum.d == 270 ? -5 : 0"}},
     "encoding": {
       "theta": {"field": "d", "type": "quantitative", "scale": {"domain": [0, 360]}},
       "radius": {"field": "r", "type": "quantitative", "stack": null, "scale": {"type": "linear", "zero": true, "nice": false, "range": [0, 102]}},
       "text": {"field": "lab"}}}
  ]
}
}
